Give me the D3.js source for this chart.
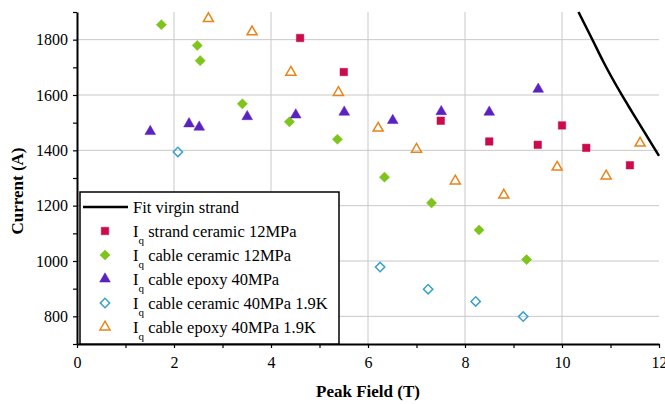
<!DOCTYPE html>
<html lang="en">
<head>
<meta charset="UTF-8">
<title>Quench current vs peak field</title>
<script src="https://d3js.org/d3.v7.min.js"></script>
<style>
  body { margin: 0; background: #fff; }
  text { font-family: "Liberation Serif", "Times New Roman", serif; fill: #000; }
  .grid line { stroke: #c8c8c8; stroke-width: 1px; }
  .axis path { stroke: #000; stroke-width: 2px; }
  .axis line { stroke: #000; stroke-width: 1.2px; }
  .axis-label { font-size: 17px; font-weight: bold; }
  .legend text { font-size: 16.5px; }
</style>
</head>
<body>
<svg width="665" height="404"></svg>
<script>
// Data
const fitField   = [10.34, 10.61, 10.85, 11.23, 11.44, 12.0];
const fitCurrent = [1900, 1806, 1721, 1601, 1540, 1380];

const strandField   = [4.6, 5.5, 7.5, 8.5, 9.5, 10.0, 10.5, 11.4];
const strandCurrent = [1806, 1683, 1507, 1432, 1420, 1490, 1409, 1346];

const cerField   = [1.74, 2.48, 2.54, 3.41, 4.38, 5.37, 6.34, 7.31, 8.29, 9.27];
const cerCurrent = [1854, 1779, 1724, 1568, 1503, 1440, 1303, 1210, 1112, 1005];

const epoField   = [1.51, 2.31, 2.52, 3.51, 4.51, 5.51, 6.51, 7.51, 8.5, 9.51];
const epoCurrent = [1468, 1496, 1484, 1522, 1528, 1538, 1508, 1540, 1538, 1621];

const cer19Field   = [2.08, 6.25, 7.24, 8.22, 9.2];
const cer19Current = [1394, 978, 898, 854, 799];

const epo19Field   = [2.71, 3.61, 4.41, 5.39, 6.21, 7.0, 7.8, 8.8, 9.9, 10.91, 11.61];
const epo19Current = [1876, 1828, 1682, 1609, 1480, 1404, 1289, 1238, 1339, 1307, 1426];

const xTicks = [0, 2, 4, 6, 8, 10, 12];
const yTicks = [800, 1000, 1200, 1400, 1600, 1800];

const svg = d3.select("svg"),
    margin = { top: 12, right: 6, bottom: 60, left: 77 },
    width = +svg.attr("width") - margin.left - margin.right,
    height = +svg.attr("height") - margin.top - margin.bottom,
    g = svg.append("g").attr("transform", "translate(" + margin.left + "," + margin.top + ")");

const x = d3.scaleLinear().domain([0, 12]).range([0, width]);
const y = d3.scaleLinear().domain([700, 1900]).range([height, 0]);

// gridlines
g.append("g").attr("class", "grid")
    .selectAll("line.v").data(xTicks.slice(1, -1)).enter().append("line")
    .attr("x1", d => x(d)).attr("x2", d => x(d))
    .attr("y1", 0).attr("y2", height);
g.select(".grid")
    .selectAll("line.h").data(yTicks).enter().append("line")
    .attr("x1", 0).attr("x2", width)
    .attr("y1", d => y(d)).attr("y2", d => y(d));

// fit line
const zip = (a, b) => a.map((v, i) => [v, b[i]]);
g.append("path")
    .datum(zip(fitField, fitCurrent))
    .attr("fill", "none")
    .attr("stroke", "#000")
    .attr("stroke-width", 2.5)
    .attr("d", d3.line().x(d => x(d[0])).y(d => y(d[1])).curve(d3.curveMonotoneX));

// series markers
const series = [
    { name: "strand ceramic 12MPa", fx: strandField, fy: strandCurrent, type: d3.symbolSquare, size: 56, rot: 0, color: "#cc0a4c", filled: true },
    { name: "cable ceramic 12MPa", fx: cerField, fy: cerCurrent, type: d3.symbolSquare, size: 52, rot: 45, color: "#7fc41c", filled: true },
    { name: "cable epoxy 40MPa", fx: epoField, fy: epoCurrent, type: d3.symbolTriangle, size: 50, rot: 0, color: "#5b22c2", filled: true },
    { name: "cable ceramic 40MPa 1.9K", fx: cer19Field, fy: cer19Current, type: d3.symbolSquare, size: 44, rot: 45, color: "#3aa2c8", filled: false },
    { name: "cable epoxy 40MPa 1.9K", fx: epo19Field, fy: epo19Current, type: d3.symbolTriangle, size: 44, rot: 0, color: "#e8841a", filled: false }
];

function drawMarker(sel, s) {
    sel.attr("d", d3.symbol().type(s.type).size(s.size)())
        .attr("fill", s.filled ? s.color : "none")
        .attr("stroke", s.color)
        .attr("stroke-width", s.filled ? 0.5 : 1.5);
}

series.forEach(s => {
    g.append("g").selectAll("path")
        .data(zip(s.fx, s.fy))
        .enter().append("path")
        .attr("transform", d => "translate(" + x(d[0]) + "," + y(d[1]) + ") rotate(" + s.rot + ")")
        .call(drawMarker, s);
});

// legend
const legend = svg.append("g").attr("class", "legend");
legend.append("rect")
    .attr("x", 80).attr("y", 192).attr("width", 259).attr("height", 152)
    .attr("fill", "#fff").attr("stroke", "#000").attr("stroke-width", 1.5);
legend.append("line")
    .attr("x1", 83).attr("x2", 128).attr("y1", 207).attr("y2", 207)
    .attr("stroke", "#000").attr("stroke-width", 2.5);
legend.append("text").attr("x", 133).attr("y", 213).text("Fit virgin strand");

series.forEach((s, i) => {
    const cy = 231 + i * 24;
    legend.append("path")
        .attr("transform", "translate(105," + cy + ") rotate(" + s.rot + ")")
        .call(drawMarker, s);
    const t = legend.append("text").attr("x", 133).attr("y", cy + 6);
    t.append("tspan").text("I");
    t.append("tspan").attr("dy", 7).style("font-size", "11px").text("q");
    t.append("tspan").attr("dy", -7).text(" " + s.name);
});

// axes
g.append("g")
    .attr("class", "axis axis-y")
    .call(d3.axisLeft(y)
        .tickValues(d3.range(700, 1901, 100))
        .tickFormat(d => yTicks.includes(d) ? d : "")
        .tickSize(4).tickSizeOuter(0).tickPadding(5));

g.append("g")
    .attr("class", "axis axis-x")
    .attr("transform", "translate(0," + height + ")")
    .call(d3.axisBottom(x)
        .tickValues(d3.range(0, 13, 1))
        .tickFormat(d => xTicks.includes(d) ? d : "")
        .tickSize(4).tickSizeOuter(0).tickPadding(9));

g.selectAll(".axis")
    .attr("font-family", null)
    .attr("font-size", null);
g.selectAll(".axis text")
    .style("font-family", "'Liberation Serif', 'Times New Roman', serif")
    .style("font-size", "16px")
    .style("fill", "#000");

// axis labels
svg.append("text")
    .attr("class", "axis-label")
    .attr("x", margin.left + width / 2)
    .attr("y", 397)
    .style("text-anchor", "middle")
    .text("Peak Field (T)");

svg.append("text")
    .attr("class", "axis-label")
    .attr("transform", "translate(23," + 191 + ") rotate(-90)")
    .style("text-anchor", "middle")
    .text("Current (A)");
</script>
</body>
</html>
